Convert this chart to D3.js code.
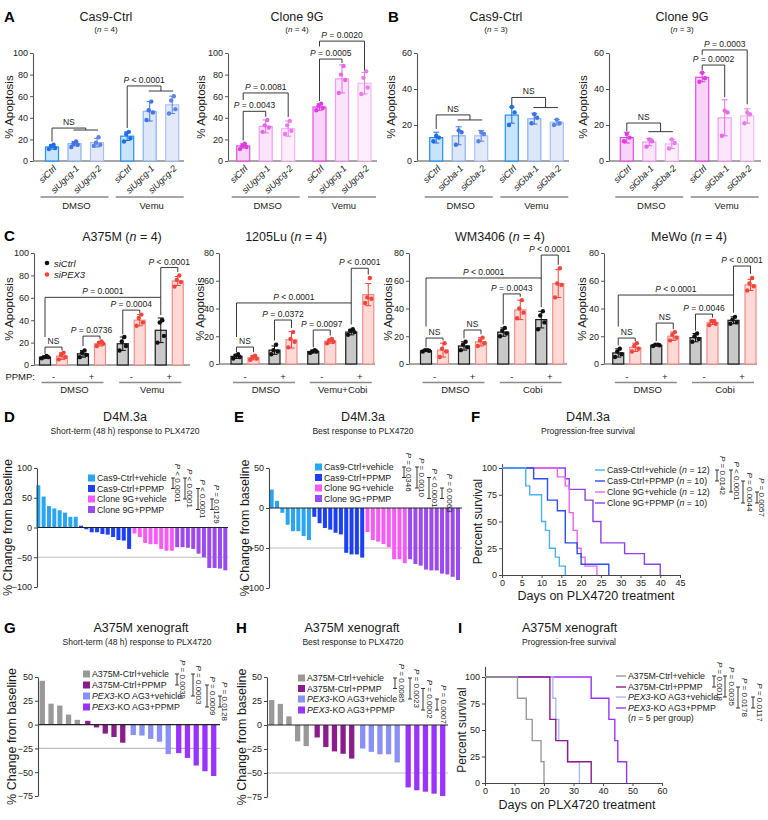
<!DOCTYPE html>
<html><head><meta charset="utf-8">
<script src="https://cdn.jsdelivr.net/npm/d3@7"></script>
<style>body{margin:0;background:#fff}svg{display:block}</style>
</head><body><script>
// ================= DATA =================
const drugGroups = ["DMSO","Vemu"];
const ugcgCats = ["siCtrl","siUgcg-1","siUgcg-2"];
const gbaCats = ["siCtrl","siGba-1","siGba-2"];
const ticks100 = [0,20,40,60,80,100];
const ticks80 = [0,20,40,60,80];
const ticks60 = [0,20,40,60];

const A_cas9_mean = [13,16,17,23,46,52];
const A_cas9_err  = [2,2,4,4,9,8];
const A_cas9_pts  = [[11,12,14,15],[13,15,16,18],[14,15,17,22],[18,21,25,27],[38,45,47,55],[44,48,56,60]];
const A_9g_mean = [14,32,30,50,76,72];
const A_9g_err  = [2,6,7,3,13,10];
const A_9g_pts  = [[11,13,14,16],[27,31,33,38],[25,28,33,37],[47,49,51,53],[63,75,80,88],[62,68,77,83]];
const B_cas9_mean = [13,14,14,25.5,23.5,21.5];
const B_cas9_err  = [3,5,3,4.5,3,1.5];
const B_cas9_pts  = [[11,13,14],[9,16,17],[11,15,16],[20,27,30],[21,24,26],[20,21,23]];
const B_9g_mean = [13,10.5,9.5,46.5,24,25];
const B_9g_err  = [3,2,2.5,2.5,10,4];
const B_9g_pts  = [[11,13,15],[8,11,12],[7,10,12],[44,46,49],[14,27,28],[21,26,27]];

// significance: [barA, [barsB], level, legA, legB, label]
const A_cas9_sig = [[0,[1,2],30.5,18,28.7,"NS"],[3,[4,5],69.5,30.5,64.8,"*P* < 0.0001"]];
const A_9g_sig = [[0,[1],46,19,41,"*P* = 0.0043"],[0,[2],63,56.5,40.7,"*P* = 0.0081"],[3,[4],94.4,55.5,90.7,"*P* = 0.0005"],[3,[5],111,106,84,"*P* = 0.0020"]];
const B_cas9_sig = [[0,[1,2],25.6,17.8,22.8,"NS"],[3,[4,5],35.3,31,29.7,"NS"]];
const B_9g_sig = [[0,[1,2],21.1,16.5,16.3,"NS"],[3,[4],53.3,50.5,35.5,"*P* = 0.0002"],[3,[5],61.7,59,31.5,"*P* = 0.0003"]];

const cSi = ["siCtrl","siPEX3"];
const cPPMP = ["-","+"];
const C_titles = ["A375M","1205Lu","WM3406","MeWo"];
const C_groups = [["DMSO","Vemu"],["DMSO","Vemu+Cobi"],["DMSO","Cobi"],["DMSO","Cobi"]];
const C1_mean=[7,8,10,19,19,40,31,75];
const C1_err=[1,3,3,2,6,5,11,4];
const C1_pts=[[6,7,7,8],[5,7,9,11],[7,9,11,13],[17,19,20,21],[13,17,21,25],[35,38,42,45],[20,26,38,40],[70,74,76,80]];
const C1_sig=[[0,[1],16,10,13,"NS"],[2,[3],25.8,17,23,"*P* = 0.0736"],[4,[5],49,27.5,46.5,"*P* = 0.0004"],[0,[6],60.4,25,44.6,"*P* = 0.0001"],[6,[7],87,60.4,83,"*P* < 0.0001"]];
const C2_mean=[5.5,4.5,10,17.5,9,16.5,23,50];
const C2_err=[1.5,1.5,3,6,1,1.5,2,8];
const C2_pts=[[4,5,6,7],[3,4,5,6],[7,9,10,14],[12,16,18,23],[8,9,9,10],[15,16,17,18],[21,23,24,25],[44,47,48,62]];
const C2_sig=[[0,[1],12.2,8.5,8.5,"NS"],[2,[3],31.7,17,26,"*P* = 0.0372"],[4,[5],24.5,12,20.5,"*P* = 0.0097"],[0,[6],44,19.5,28.5,"*P* < 0.0001"],[6,[7],69,44,64.5,"*P* < 0.0001"]];
const C3_mean=[9.5,10,13,16,23,39,32,58];
const C3_err=[0.5,5,3,3,3,7,6,10];
const C3_pts=[[9,9.5,10,10],[5,9,11,15],[10,12,14,16],[13,15,17,19],[20,22,24,26],[33,37,40,46],[25,30,35,38],[48,57,58,69]];
const C3_sig=[[0,[1],18.7,12,17,"NS"],[2,[3],24.5,18.5,21.5,"NS"],[4,[5],50.5,28.5,48.5,"*P* = 0.0043"],[0,[6],62,27,41,"*P* < 0.0001"],[6,[7],78.5,62,71.5,"*P* < 0.0001"]];
const C4_mean=[8,12,13.5,20,19,30,31.5,57];
const C4_err=[3,3,0.5,3,3,1.5,2.5,4];
const C4_pts=[[5,7,9,11],[9,11,13,15],[13,13.5,14,14],[17,19,21,23],[16,18,20,22],[28,29,31,31],[29,30,32,34],[53,56,58,62]];
const C4_sig=[[0,[1],18.7,13.5,16.5,"NS"],[2,[3],29.5,16.5,25,"NS"],[4,[5],36,24,33.5,"*P* = 0.0046"],[0,[6],49.7,27,37,"*P* < 0.0001"],[6,[7],70.6,49.7,65,"*P* < 0.0001"]];

const d4mLabels = ["Cas9-Ctrl+vehicle","Cas9-Ctrl+PPMP","Clone 9G+vehicle","Clone 9G+PPMP"];
const D_ctrlVeh = [71,52,36,32,29,25,18,18];
const D_ctrlPpmp = [3,-3,-8,-8,-11,-12,-16,-21,-22,-36];
const D_9gVeh = [-10,-16,-26,-28,-28,-36,-39,-39];
const D_9gPpmp = [-33,-33,-34,-36,-44,-50,-68,-68,-69,-72];
const D_ticks = [-100,-50,0,50,100];
const D_pvals = [[0,1,"*P* < 0.0001"],[0,2,"*P* < 0.0001"],[1,3,"*P* < 0.0001"],[2,3,"*P* = 0.0129"]];

const E_ctrlVeh = [23,9,-6,-21,-29,-29,-35,-40];
const E_ctrlPpmp = [-11,-19,-25,-27,-31,-33,-56,-58,-58,-62];
const E_9gVeh = [-30,-40,-42,-45,-49,-64,-64,-69];
const E_9gPpmp = [-64,-70,-72,-77,-78,-78,-82,-83,-86,-90];
const E_ticks = [-100,-50,0,50];
const E_pvals = [[0,1,"*P* = 0.0346"],[0,2,"*P* = 0.0010"],[1,3,"*P* < 0.0001"],[2,3,"*P* = 0.0063"]];

const F_labels = ["Cas9-Ctrl+vehicle (*n* = 12)","Cas9-Ctrl+PPMP (*n* = 10)","Clone 9G+vehicle (*n* = 12)","Clone 9G+PPMP (*n* = 10)"];
const F_ctrlVeh = [[0,100],[6,83.3],[7,75],[10,50],[11,41.7],[12,25],[13.5,16.7],[14.5,8.3],[16,0]];
const F_ctrlPpmp = [[0,100],[8,90],[11.5,70],[14,60],[16,30],[19,20],[20,10],[27,0]];
const F_9gVeh = [[0,100],[14,91.7],[16,83.3],[17,58.3],[18,41.7],[19,25],[20,16.7],[21,8.3],[24,0]];
const F_9gPpmp = [[0,100],[16,90],[17,80],[21,70],[23,50],[25,30],[31,20],[36,10],[40,0]];
const F_xticks = [0,5,10,15,20,25,30,35,40,45];
const surv_yticks = [0,25,50,75,100];
const F_pvals = [[0,1,"*P* = 0.0142"],[0,2,"*P* < 0.0001"],[1,3,"*P* = 0.0044"],[2,3,"*P* = 0.0057"]];

const xenoLabels = ["A375M-Ctrl+vehicle","A375M-Ctrl+PPMP","*PEX3*-KO AG3+vehicle","*PEX3*-KO AG3+PPMP"];
const G_ctrlVeh = [46,22,20,10.5,5];
const G_ctrlPpmp = [4,-3,-9.5,-13,-19];
const G_koVeh = [-11,-11.5,-15,-18,-31];
const G_koPpmp = [-30,-35,-43,-49,-54];
const G_ticks = [-75,-50,-25,0,25,50];
const G_pvals = [[0,1,"*P* = 0.0039"],[0,2,"*P* = 0.0003"],[1,3,"*P* = 0.0009"],[2,3,"*P* = 0.0128"]];

const H_ctrlVeh = [26,22,9,-17,-22];
const H_ctrlPpmp = [-13,-23,-27.5,-30,-35];
const H_koVeh = [-24.5,-28,-30.5,-30.5,-39];
const H_koPpmp = [-65,-68,-69.5,-71.5,-74];
const H_pvals = [[0,1,"*P* = 0.0085"],[0,2,"*P* = 0.0023"],[1,3,"*P* = 0.0002"],[2,3,"*P* = 0.0007"]];

const I_ctrlVeh = [[0,100],[11,80],[14,60],[16,40],[19,20],[20,0]];
const I_ctrlPpmp = [[0,100],[22,60],[24,40],[28,20],[36,0]];
const I_koVeh = [[0,100],[23,80],[24,60],[25,40],[28,20],[32,0]];
const I_koPpmp = [[0,100],[36,80],[42,60],[44,40],[45,20],[48,0]];
const I_xticks = [0,10,20,30,40,50,60];
const I_pvals = [[0,1,"*P* = 0.0018"],[0,2,"*P* = 0.0035"],[1,3,"*P* = 0.0178"],[2,3,"*P* = 0.0117"]];

// ================= STYLE =================
const FONT = "'Liberation Sans', Arial, Helvetica, sans-serif";
const TXT = "#1a1a1a";
const LEG = 8.8;
const cas9Cols = [{stroke:"#1E90FF",fill:"#C8E4FB",dot:"#1E6FE6"},{stroke:"#8DB0F0",fill:"#DDE7FA",dot:"#3F74E3"},{stroke:"#A9C0F2",fill:"#E3E9F9",dot:"#5A83E6"}];
const c9gCols = [{stroke:"#E84AE8",fill:"#F8D5F8",dot:"#E03CE0"},{stroke:"#F29AF2",fill:"#FCE4FC",dot:"#E668E6"},{stroke:"#F5B8F5",fill:"#FDEDFD",dot:"#EA7CEA"}];
const cCols = [{stroke:"#1a1a1a",fill:"#C9C9C9",dot:"#111"},{stroke:"#F08C86",fill:"#FDDAD6",dot:"#F2453D"}];
const d4mCols = ["#2AA5F2","#1C40F2","#F75BF5","#9B4AF0"];
const d4mLineCols = ["#4AB0F0","#2D4FF0","#F060F0","#9040E8"];
const xenoCols = ["#999999","#8B1C8B","#8A90F5","#9933FF"];
const xenoLineCols = ["#9a9a9a","#8B1C8B","#AEB8F8","#9933FF"];

const svg = d3.select("body").append("svg").attr("width",768).attr("height",820)
  .style("font-family",FONT);

function txt(x,y,str,o={}){
  const t = svg.append("text").attr("font-size",o.size||9).attr("fill",o.fill||TXT)
    .attr("text-anchor",o.anchor||"start").attr("font-family",FONT);
  if(o.rot!==undefined) t.attr("transform",`translate(${x},${y}) rotate(${o.rot})`);
  else t.attr("x",x).attr("y",y);
  if(o.bold) t.attr("font-weight","bold");
  if(o.italic) t.attr("font-style","italic");
  String(str).split("*").forEach((s,i)=>{ if(s==="") return; const sp=t.append("tspan").text(s); if(i%2===1) sp.attr("font-style","italic"); });
  return t;
}
function line(x1,y1,x2,y2,col,w){
  svg.append("line").attr("x1",x1).attr("y1",y1).attr("x2",x2).attr("y2",y2).attr("stroke",col).attr("stroke-width",w);
}
function yAxis(x,y,ticks,o={}){
  const g = svg.append("g").attr("transform",`translate(${x},0)`)
    .call(d3.axisLeft(y).tickValues(ticks).tickSize(3).tickSizeOuter(0).tickPadding(2));
  g.attr("font-family",FONT);
  g.select(".domain").attr("stroke",o.color||"#555").attr("stroke-width",1.1);
  g.selectAll(".tick line").attr("stroke",o.color||"#555");
  g.selectAll(".tick text").attr("font-size",o.size||9).attr("fill","#222");
  return g;
}
function drawBars(bars,y,w){
  const g = svg.append("g");
  g.selectAll("rect").data(bars).join("rect")
    .attr("x",b=>b.x-w/2).attr("y",b=>y(b.mean)).attr("width",w).attr("height",b=>y(0)-y(b.mean))
    .attr("fill",b=>b.col.fill).attr("stroke",b=>b.col.stroke).attr("stroke-width",1.2);
  bars.forEach(b=>{
    const e = g.append("g").attr("stroke",b.col.dot).attr("stroke-width",1);
    e.append("line").attr("x1",b.x).attr("x2",b.x).attr("y1",y(b.mean-b.err)).attr("y2",y(b.mean+b.err));
    [b.mean-b.err,b.mean+b.err].forEach(v=>e.append("line").attr("x1",b.x-3).attr("x2",b.x+3).attr("y1",y(v)).attr("y2",y(v)));
    const offs = b.pts.length===4 ? [-3.2,3.2,-1,1.6] : [-2.8,2.8,0];
    g.append("g").selectAll("circle").data(b.pts).join("circle")
      .attr("cx",(p,i)=>b.x+offs[i]).attr("cy",p=>y(p)).attr("r",2.2).attr("fill",b.col.dot);
  });
}
function drawSig(y,xs,sig){
  sig.forEach(([a,b,v,la,lb,label])=>{
    const xa=xs[a], xbs=b.map(i=>xs[i]), xb=d3.mean(xbs), yv=y(v);
    const p=d3.path();
    p.moveTo(xa,y(la)); p.lineTo(xa,yv); p.lineTo(xb,yv); p.lineTo(xb,y(lb));
    if(xbs.length>1){ p.moveTo(d3.min(xbs)-1,y(lb)); p.lineTo(d3.max(xbs)+1,y(lb)); }
    svg.append("path").attr("d",p.toString()).attr("fill","none").attr("stroke","#222").attr("stroke-width",0.9);
    txt((xa+xb)/2, yv-3, label, {size:8.5, anchor:"middle"});
  });
}

// ---------- Panels A / B ----------
function catPanel(o){
  const y = d3.scaleLinear().domain([0,o.yMax]).range([161,53]);
  const gx = d3.scalePoint().domain(drugGroups).range(o.gRange);
  const cx = d3.scalePoint().domain(o.cats).range([-22.5,22.5]);
  const bars=[];
  drugGroups.forEach((g,gi)=>o.cats.forEach((c,ci)=>{const i=gi*o.cats.length+ci;
    bars.push({x:gx(g)+cx(c),mean:o.mean[i],err:o.err[i],pts:o.pts[i],col:o.cols[ci],label:c});}));
  yAxis(o.x0,y,o.ticks);
  line(o.x0,y(0),o.x1,y(0),"#888",1.5);
  drawBars(bars,y,13);
  drawSig(y,bars.map(b=>b.x),o.sig);
  bars.forEach(b=>txt(b.x+5,y(0)+8,b.label,{size:9,anchor:"end",rot:-45,italic:true}));
  drugGroups.forEach(g=>{ line(gx(g)-34,197,gx(g)+34,197,"#8a8a8a",1.5); txt(gx(g)+2,209,g,{size:9.5,anchor:"middle"}); });
  txt(o.tc,21,o.title,{size:12.5,anchor:"middle"});
  txt(o.tc,32,o.sub,{size:8,anchor:"middle"});
  txt(o.ylx,107,"% Apoptosis",{size:11.5,anchor:"middle",rot:-90});
}
catPanel({x0:33,x1:184,yMax:100,ticks:ticks100,gRange:[74.5,149.7],cats:ugcgCats,mean:A_cas9_mean,err:A_cas9_err,pts:A_cas9_pts,cols:cas9Cols,sig:A_cas9_sig,tc:106,title:"Cas9-Ctrl",sub:"(*n* = 4)",ylx:13});
catPanel({x0:228,x1:377,yMax:100,ticks:ticks100,gRange:[265.7,342],cats:ugcgCats,mean:A_9g_mean,err:A_9g_err,pts:A_9g_pts,cols:c9gCols,sig:A_9g_sig,tc:297,title:"Clone 9G",sub:"(*n* = 4)",ylx:205});
catPanel({x0:417,x1:569,yMax:60,ticks:ticks60,gRange:[458.7,534.3],cats:gbaCats,mean:B_cas9_mean,err:B_cas9_err,pts:B_cas9_pts,cols:cas9Cols,sig:B_cas9_sig,tc:496,title:"Cas9-Ctrl",sub:"(*n* = 3)",ylx:395});
catPanel({x0:609,x1:761,yMax:60,ticks:ticks60,gRange:[649.3,724.7],cats:gbaCats,mean:B_9g_mean,err:B_9g_err,pts:B_9g_pts,cols:c9gCols,sig:B_9g_sig,tc:682,title:"Clone 9G",sub:"(*n* = 3)",ylx:587});

// ---------- Panel C ----------
function cPanel(o){
  const y = d3.scaleLinear().domain([0,o.yMax]).range([o.y0,253]);
  const gx = d3.scalePoint().domain(o.groups).range(o.gRange);
  const px = d3.scalePoint().domain(cPPMP).range([-19,19]);
  const sx = d3.scalePoint().domain(cSi).range([-8.5,8.5]);
  const bars=[];
  o.groups.forEach((g,gi)=>cPPMP.forEach((p,pi)=>cSi.forEach((s,si)=>{const i=gi*4+pi*2+si;
    bars.push({x:gx(g)+px(p)+sx(s),mean:o.mean[i],err:o.err[i],pts:o.pts[i],col:cCols[si]});})));
  yAxis(o.x0,y,o.ticks);
  line(o.x0,y(0),o.x1,y(0),"#888",1.5);
  drawBars(bars,y,11);
  drawSig(y,bars.map(b=>b.x),o.sig);
  o.groups.forEach(g=>{
    cPPMP.forEach(p=>txt(gx(g)+px(p),379.5,p,{size:9.5,anchor:"middle"}));
    line(gx(g)-31,382.5,gx(g)+31,382.5,"#8a8a8a",1.5);
    txt(gx(g)+2,392.5,g,{size:9.5,anchor:"middle"});
  });
  txt(o.tc,241,o.title+" (*n* = 4)",{size:12.5,anchor:"middle"});
  txt(o.ylx,309,"% Apoptosis",{size:11.5,anchor:"middle",rot:-90});
}
cPanel({x0:34,x1:190,y0:365,yMax:100,ticks:ticks100,groups:C_groups[0],gRange:[72.5,150.25],mean:C1_mean,err:C1_err,pts:C1_pts,sig:C1_sig,tc:122,title:C_titles[0],ylx:13});
cPanel({x0:219,x1:375,y0:364,yMax:80,ticks:ticks80,groups:C_groups[1],gRange:[264,340.75],mean:C2_mean,err:C2_err,pts:C2_pts,sig:C2_sig,tc:286,title:C_titles[1],ylx:204});
cPanel({x0:409,x1:567,y0:364,yMax:80,ticks:ticks80,groups:C_groups[2],gRange:[453.5,530.75],mean:C3_mean,err:C3_err,pts:C3_pts,sig:C3_sig,tc:500,title:C_titles[2],ylx:392});
cPanel({x0:604,x1:757,y0:364,yMax:80,ticks:ticks80,groups:C_groups[3],gRange:[645.75,723],mean:C4_mean,err:C4_err,pts:C4_pts,sig:C4_sig,tc:689,title:C_titles[3],ylx:586});
txt(35,379.5,"PPMP:",{size:9.5,anchor:"end"});
cSi.forEach((s,i)=>{ svg.append("circle").attr("cx",47).attr("cy",263+i*11.5).attr("r",2.3).attr("fill",cCols[i].dot);
  txt(54,266.5+i*11.5,s,{size:9.5,italic:true}); });

// ---------- legend brackets ----------
function legendBrackets(list,rows,xs,txs){
  list.forEach(([r1,r2,label],i)=>{
    const x=xs[i], y1=rows[r1], y2=rows[r2];
    svg.append("path").attr("d",`M${x-2},${y1}H${x+2}M${x},${y1}V${y2}M${x-2},${y2}H${x+2}`)
      .attr("stroke","#222").attr("fill","none").attr("stroke-width",0.9);
    txt(txs[i]-3,(y1+y2)/2,label,{size:8,anchor:"middle",rot:90});
  });
}

// ---------- waterfalls ----------
function waterfall(o){
  const y = d3.scaleLinear().domain(o.domain).range(o.range);
  const vals=[]; o.groups.forEach((arr,gi)=>arr.forEach(v=>vals.push({v,gi,slot:vals.length+gi*o.gap})));
  const x = d3.scaleLinear().domain([0,vals[vals.length-1].slot]).range(o.xr);
  line(o.x0,y(o.ref),o.x1,y(o.ref),"#bdbdbd",1.2);
  svg.append("g").selectAll("rect").data(vals).join("rect")
    .attr("x",d=>x(d.slot)-o.bw/2).attr("width",o.bw)
    .attr("y",d=>y(Math.max(0,d.v))).attr("height",d=>Math.abs(y(d.v)-y(0)))
    .attr("fill",d=>o.cols[d.gi]);
  line(o.x0,y(0),o.x1,y(0),"#222",1.1);
  yAxis(o.x0,y,o.ticks,{color:"#444"});
  o.labels.forEach((l,i)=>{
    svg.append("rect").attr("x",o.lx).attr("y",o.rows[i]-3.5).attr("width",7).attr("height",7).attr("fill",o.cols[i]);
    txt(o.lx+9,o.rows[i]+3.3,l,{size:LEG});
  });
  legendBrackets(o.pvals,o.rows,o.bx,o.tx);
  txt(o.ylx,(o.range[0]+o.range[1])/2,"% Change from baseline",{size:12.5,anchor:"middle",rot:-90});
}
waterfall({domain:[-100,100],range:[587,468],ticks:D_ticks,groups:[D_ctrlVeh,D_ctrlPpmp,D_9gVeh,D_9gPpmp],gap:0,xr:[38.3,225.3],bw:4,
  x0:37,x1:228,ref:-50,cols:d4mCols,labels:d4mLabels,lx:88,rows:[478,488.5,499,509.5],pvals:D_pvals,bx:[173,185,198,212],tx:[178,190,203,217],ylx:12});
waterfall({domain:[-100,50],range:[588,468],ticks:E_ticks,groups:[E_ctrlVeh,E_ctrlPpmp,E_9gVeh,E_9gPpmp],gap:0,xr:[271.7,458],bw:4,
  x0:269,x1:462,ref:-50,cols:d4mCols,labels:d4mLabels,lx:315,rows:[467,477.5,488,498.5],pvals:E_pvals,bx:[404,417,429,442],tx:[409,422,435,450],ylx:249});
waterfall({domain:[-75,50],range:[796,677],ticks:G_ticks,groups:[G_ctrlVeh,G_ctrlPpmp,G_koVeh,G_koPpmp],gap:0.2,xr:[42.3,213.7],bw:5.3,
  x0:38,x1:220,ref:-25,cols:xenoCols,labels:xenoLabels,lx:83,rows:[674,685,696,707],pvals:G_pvals,bx:[177,193,207,220],tx:[183,199,213,225],ylx:16});
waterfall({domain:[-75,50],range:[797,677],ticks:G_ticks,groups:[H_ctrlVeh,H_ctrlPpmp,H_koVeh,H_koPpmp],gap:0.27,xr:[271.7,442.7],bw:5.3,
  x0:267,x1:448,ref:-50,cols:xenoCols,labels:xenoLabels,lx:298,rows:[678,688.5,699,710],pvals:H_pvals,bx:[395,410,423,437],tx:[402,417,430,444],ylx:246});

// ---------- survival ----------
function survival(o){
  const x = d3.scaleLinear().domain([0,o.xMax]).range([o.x0,o.x1]);
  const y = d3.scaleLinear().domain([0,100]).range([o.y0,o.y100]);
  const ya = d3.scaleLinear().domain([0,o.yAxTop]).range([o.y0,y(o.yAxTop)]);
  yAxis(o.x0,ya,surv_yticks,{color:"#444"});
  const gx = svg.append("g").attr("transform",`translate(0,${o.y0})`)
    .call(d3.axisBottom(x).tickValues(o.xticks).tickSize(3).tickSizeOuter(0).tickPadding(2));
  gx.attr("font-family",FONT);
  gx.select(".domain").attr("stroke","#444").attr("stroke-width",1.1);
  gx.selectAll(".tick line").attr("stroke","#444");
  gx.selectAll(".tick text").attr("font-size",9).attr("fill","#222");
  const ln = d3.line().x(d=>x(d[0])).y(d=>y(d[1])).curve(d3.curveStepAfter);
  o.order.forEach(i=>svg.append("path").attr("d",ln(o.curves[i])).attr("fill","none").attr("stroke",o.cols[i]).attr("stroke-width",1.4));
  o.labels.forEach((l,i)=>{
    line(o.lx,o.rows[i],o.lx+10,o.rows[i],o.cols[i],1.4);
    txt(o.lx+12,o.rows[i]+3.3,l,{size:LEG});
  });
  legendBrackets(o.pvals,o.rows,o.bx,o.tx);
  txt(o.ylx,(o.y0+o.y100)/2,"Percent survival",{size:12,anchor:"middle",rot:-90});
  txt(o.xlx,o.xly,"Days on PLX4720 treatment",{size:12.5,anchor:"middle"});
}
survival({xMax:45,x0:502,x1:680,y0:575,y100:468,yAxTop:104,xticks:F_xticks,curves:[F_ctrlVeh,F_ctrlPpmp,F_9gVeh,F_9gPpmp],order:[3,2,1,0],cols:d4mLineCols,
  labels:F_labels,lx:595,rows:[470,481,492,503],pvals:F_pvals,bx:[717,731,743,757],tx:[723,737,750,762],ylx:482,xlx:596,xly:600});
survival({xMax:60,x0:485,x1:662,y0:783,y100:677,yAxTop:110,xticks:I_xticks,curves:[I_ctrlVeh,I_ctrlPpmp,I_koVeh,I_koPpmp],order:[3,2,1,0],cols:xenoLineCols,
  labels:xenoLabels,lx:616,rows:[676,687,697,708],pvals:I_pvals,bx:[714,725,738,753],tx:[720,732,745,760],ylx:466,xlx:577,xly:809});
txt(628,721.3,"(*n* = 5 per group)",{size:LEG});

// ---------- titles ----------
txt(125,421,"D4M.3a",{size:12.5,anchor:"middle"});
txt(125,433.5,"Short-term (48 h) response to PLX4720",{size:8.5,anchor:"middle"});
txt(363,421,"D4M.3a",{size:12.5,anchor:"middle"});
txt(363,433.5,"Best response to PLX4720",{size:8.5,anchor:"middle"});
txt(588,421,"D4M.3a",{size:12.5,anchor:"middle"});
txt(588,433.5,"Progression-free survival",{size:8.5,anchor:"middle"});
txt(141,632,"A375M xenograft",{size:12.5,anchor:"middle"});
txt(137,645,"Short-term (48 h) response to PLX4720",{size:8.5,anchor:"middle"});
txt(352,632,"A375M xenograft",{size:12.5,anchor:"middle"});
txt(353,645,"Best response to PLX4720",{size:8.5,anchor:"middle"});
txt(522,632,"A375M xenograft",{size:12.5});
txt(522,645,"Progression-free survival",{size:8.5});

// ---------- panel letters ----------
[["A",4,22],["B",388,22],["C",4,241],["D",4,422],["E",234,422],["F",471,422],["G",4,633],["H",236,633],["I",458,633]]
  .forEach(([l,x,y])=>txt(x,y,l,{size:15,bold:true,fill:"#000"}));
</script></body></html>
